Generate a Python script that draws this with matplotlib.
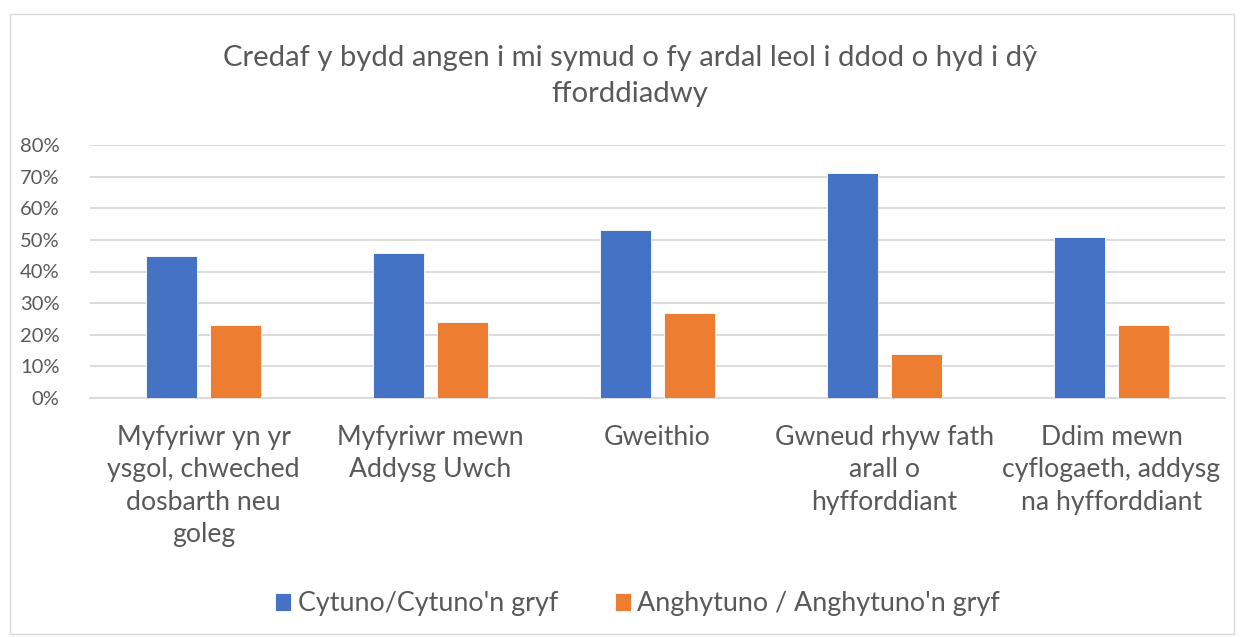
import matplotlib
matplotlib.use("Agg")
import matplotlib.pyplot as plt
import numpy as np
from matplotlib.patches import Rectangle

categories = ["Myfyriwr yn yr\nysgol, chweched\ndosbarth neu\ngoleg",
              "Myfyriwr mewn\nAddysg Uwch",
              "Gweithio",
              "Gwneud rhyw fath\narall o\nhyfforddiant",
              "Ddim mewn\ncyflogaeth, addysg\nna hyfforddiant"]
agree = [0.45, 0.46, 0.53, 0.71, 0.51]
disagree = [0.23, 0.24, 0.27, 0.14, 0.23]
series_names = ["Cytuno/Cytuno'n gryf", "Anghytuno / Anghytuno'n gryf"]
yticks = [0, 0.1, 0.2, 0.3, 0.4, 0.5, 0.6, 0.7, 0.8]
title = "Credaf y bydd angen i mi symud o fy ardal leol i ddod o hyd i dŷ\nfforddiadwy"

plt.rcParams['font.family'] = ['Lato', 'DejaVu Sans']
BLUE = "#4472C4"
ORANGE = "#ED7D31"
TXT = "#595959"

fig = plt.figure(figsize=(12.44, 6.37), dpi=100)
fig.patches.append(Rectangle((10/1244, 1-634/637), 1224/1244, 620/637, transform=fig.transFigure,
                             fill=False, edgecolor="#D9D9D9", linewidth=1))
ax = fig.add_axes([90/1244, 1-398/637, 1135/1244, (398-145)/637])

x = np.arange(len(categories))
w = 0.225
off = 0.1425
ax.bar(x - off, agree, w, color=BLUE, edgecolor="#ffffff", linewidth=0.6, zorder=3, label=series_names[0])
ax.bar(x + off, disagree, w, color=ORANGE, edgecolor="#ffffff", linewidth=0.6, zorder=3, label=series_names[1])

ax.set_xlim(-0.5, len(categories) - 0.5)
ax.set_ylim(0, 0.8)
ax.set_yticks(yticks)
ax.set_yticklabels([f"{int(round(v*100))}%" for v in yticks], fontsize=14.5, color=TXT)
ax.yaxis.grid(True, color="#D9D9D9", linewidth=1.3, zorder=0)
ax.tick_params(axis='y', length=0, pad=22)
ax.tick_params(axis='x', length=0, pad=19.5)
ax.set_xticks(x)
ax.set_xticklabels(categories, fontsize=19.2, color=TXT, linespacing=1.37, va='top')
for s in ["top", "right", "left"]:
    ax.spines[s].set_visible(False)
ax.spines["bottom"].set_color("#D9D9D9")
ax.spines["bottom"].set_linewidth(1.3)

fig.text(0.5065, 1-76/637, title, ha='center', va='center', fontsize=21.1, color=TXT, linespacing=1.52)

leg = fig.legend(loc='center', bbox_to_anchor=(637.5/1244, 1-604/637), ncol=2, frameon=False,
                 fontsize=19.4, handlelength=0.6, handleheight=0.6, handletextpad=0.25, columnspacing=2.1)
for t in leg.get_texts():
    t.set_color(TXT)

fig.savefig("out.png", dpi=100)
